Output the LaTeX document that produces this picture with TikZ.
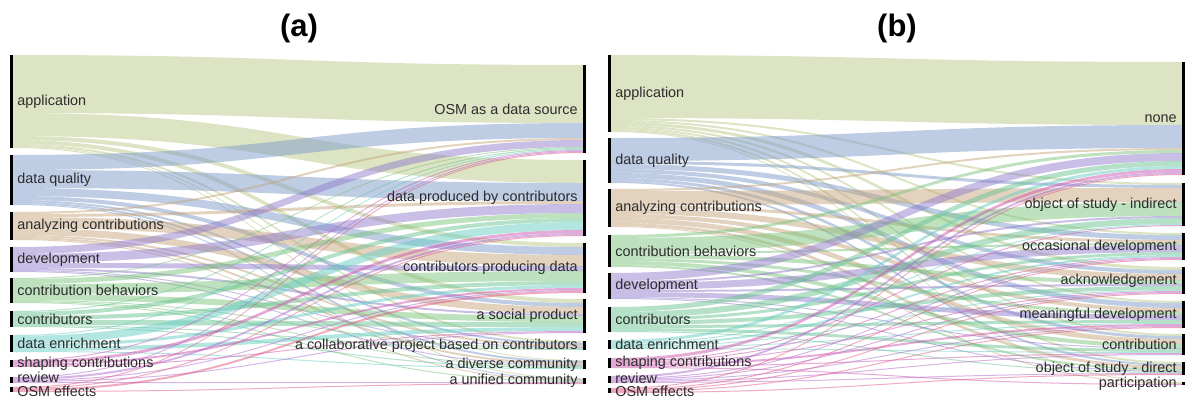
\documentclass[tikz,border=0pt]{standalone}
\usepackage{fontspec}
\setmainfont{Liberation Sans}
\usetikzlibrary{positioning}

% running top of the free slot on each bar
\newcommand{\setslot}[2]{\expandafter\xdef\csname slot#1\endcsname{#2}}
% one band from source #1 to target #2, #3 px wide
\newcommand{\flow}[3]{%
  \pgfmathsetmacro{\fya}{\csname slot#1\endcsname}%
  \pgfmathsetmacro{\fyc}{\csname slot#2\endcsname}%
  \pgfmathsetmacro{\fyb}{\fya+#3}%
  \pgfmathsetmacro{\fyd}{\fyc+#3}%
  \fill[band,c#1] (\flxl,\fya) .. controls (\flxm,\fya) and (\flxm,\fyc) .. (\flxr,\fyc)
    -- (\flxr,\fyd) .. controls (\flxm,\fyd) and (\flxm,\fyb) .. (\flxl,\fyb) -- cycle;
  \setslot{#1}{\fyb}\setslot{#2}{\fyd}}
\newcommand{\flows}[2]{\foreach \tgt/\wdt in {#2}{\flow{#1}{\tgt}{\wdt}}}

\tikzset{
  band/.style={opacity=0.5},
  bar/.style={shape=rectangle,fill=black,minimum width=3pt,inner sep=0pt},
  lbl/.style={inner sep=0pt,text=labelgrey,font=\fontsize{14.4}{16}\selectfont},
  ttl/.style={inner sep=0pt,font=\bfseries\fontsize{31}{34}\selectfont}
}

\begin{document}
\begin{tikzpicture}[x=1pt,y=-1pt]
    \definecolor{labelgrey}{RGB}{45,45,45}
    \definecolor{capp}{RGB}{185,201,135}
    \definecolor{cdq}{RGB}{125,153,201}
    \definecolor{cac}{RGB}{197,165,125}
    \definecolor{cdev}{RGB}{145,125,205}
    \definecolor{ccb}{RGB}{125,195,125}
    \definecolor{ccon}{RGB}{105,195,145}
    \definecolor{cde}{RGB}{105,205,195}
    \definecolor{csc}{RGB}{205,85,175}
    \definecolor{crev}{RGB}{175,105,205}
    \definecolor{cosm}{RGB}{225,85,125}
    \useasboundingbox (0,0) rectangle (1187,399);

    \node[ttl] (ta) at (299,28) {(a)};
    \node[ttl] (tb) at (897,28) {(b)};

    % panel (a)
    \def\flxl{13}\def\flxr{583}\def\flxm{298}
    \setslot{app}{55}\setslot{dq}{155}\setslot{ac}{212}\setslot{dev}{247}\setslot{cb}{278}
    \setslot{con}{311}\setslot{de}{335}\setslot{sc}{360}\setslot{rev}{377}\setslot{osm}{387}
    \setslot{src}{65}\setslot{dpc}{160}\setslot{cpd}{243}\setslot{soc}{299}
    \setslot{col}{341}\setslot{div}{360}\setslot{uni}{378}
    \flows{app}{src/58,dpc/23,cpd/4,soc/4,col/2,div/1,uni/1}
    \flows{dq}{src/15,dpc/18,cpd/8,soc/4,col/2,div/2,uni/1}
    \flows{ac}{src/2,dpc/3,cpd/11,soc/7,col/2,div/2,uni/1}
    \flows{dev}{src/7,dpc/9,cpd/5,soc/2,col/1,div/1}
    \flows{cb}{src/1,dpc/5,cpd/10,soc/6,col/1,div/1,uni/1}
    \flows{con}{src/1,dpc/4,cpd/4,soc/5,col/1,div/1}
    \flows{de}{src/1,dpc/8,cpd/3,soc/4,div/1}
    \flows{sc}{src/1,dpc/3,cpd/2,soc/1}
    \flows{rev}{src/1,dpc/2,cpd/1,soc/1,uni/1}
    \flows{osm}{src/1,dpc/1,cpd/2,uni/1}

    \node[bar,minimum height=93pt] (aApp) at (11.5,101.5) {};
    \node[bar,minimum height=50pt] (aDq)  at (11.5,180) {};
    \node[bar,minimum height=28pt] (aAc)  at (11.5,226) {};
    \node[bar,minimum height=25pt] (aDev) at (11.5,259.5) {};
    \node[bar,minimum height=25pt] (aCb)  at (11.5,290.5) {};
    \node[bar,minimum height=16pt] (aCon) at (11.5,319) {};
    \node[bar,minimum height=17pt] (aDe)  at (11.5,343.5) {};
    \node[bar,minimum height=7pt]  (aSc)  at (11.5,363.5) {};
    \node[bar,minimum height=6pt]  (aRev) at (11.5,380) {};
    \node[bar,minimum height=5pt]  (aOsm) at (11.5,389.5) {};
    \node[bar,minimum height=88pt] (aSrc) at (584.5,109) {};
    \node[bar,minimum height=76pt] (aDpc) at (584.5,198) {};
    \node[bar,minimum height=50pt] (aCpd) at (584.5,268) {};
    \node[bar,minimum height=34pt] (aSoc) at (584.5,316) {};
    \node[bar,minimum height=9pt]  (aCol) at (584.5,345.5) {};
    \node[bar,minimum height=9pt]  (aDiv) at (584.5,364.5) {};
    \node[bar,minimum height=6pt]  (aUni) at (584.5,381) {};

    \node[lbl,right=4pt of aApp] (laApp) {application};
    \node[lbl,right=4pt of aDq]  (laDq)  {data quality};
    \node[lbl,right=4pt of aAc]  (laAc)  {analyzing contributions};
    \node[lbl,right=4pt of aDev] (laDev) {development};
    \node[lbl,right=4pt of aCb]  (laCb)  {contribution behaviors};
    \node[lbl,right=4pt of aCon] (laCon) {contributors};
    \node[lbl,right=4pt of aDe]  (laDe)  {data enrichment};
    \node[lbl,right=4pt of aSc]  (laSc)  {shaping contributions};
    \node[lbl,right=4pt of aRev,yshift=2.5pt] (laRev) {review};
    \node[lbl,right=4pt of aOsm,yshift=-1.5pt] (laOsm) {OSM effects};
    \node[lbl,left=5pt of aSrc] (laSrc) {OSM as a data source};
    \node[lbl,left=5pt of aDpc] (laDpc) {data produced by contributors};
    \node[lbl,left=5pt of aCpd] (laCpd) {contributors producing data};
    \node[lbl,left=5pt of aSoc] (laSoc) {a social product};
    \node[lbl,left=5pt of aCol] (laCol) {a collaborative project based on contributors};
    \node[lbl,left=5pt of aDiv] (laDiv) {a diverse community};
    \node[lbl,left=5pt of aUni] (laUni) {a unified community};

    % panel (b)
    \def\flxl{611}\def\flxr{1182}\def\flxm{896.5}
    \setslot{app}{55}\setslot{dq}{138}\setslot{ac}{189}\setslot{cb}{235}\setslot{dev}{273}
    \setslot{con}{307}\setslot{de}{340}\setslot{sc}{358}\setslot{rev}{376}\setslot{osm}{388}
    \setslot{none}{62}\setslot{osi}{183}\setslot{occ}{233}\setslot{ack}{267}
    \setslot{mean}{301}\setslot{ctb}{334}\setslot{osd}{362}\setslot{part}{382}
    \flows{app}{none/63,osi/2,occ/2,ack/3,mean/2,ctb/2,osd/2,part/1}
    \flows{dq}{none/23,osi/3,occ/5,ack/4,mean/5,ctb/3,osd/2}
    \flows{ac}{none/2,osi/14,occ/3,ack/6,mean/4,ctb/5,osd/3,part/1}
    \flows{cb}{none/3,osi/14,occ/2,ack/4,mean/3,ctb/4,osd/2}
    \flows{dev}{none/8,osi/2,occ/7,ack/2,mean/5,ctb/1,osd/1}
    \flows{con}{none/5,osi/6,occ/3,ack/4,mean/3,ctb/3,osd/1}
    \flows{de}{none/3,osi/1,occ/2,ack/1,mean/1,ctb/1}
    \flows{sc}{none/3,osi/1,occ/1,ack/1,mean/2,ctb/1,part/1}
    \flows{rev}{none/2,occ/1,ack/1,mean/1,ctb/1,osd/1}
    \flows{osm}{none/1,occ/1,ack/1,mean/1,osd/1}

    \node[bar,minimum height=77pt] (bApp) at (609.5,93.5) {};
    \node[bar,minimum height=45pt] (bDq)  at (609.5,160.5) {};
    \node[bar,minimum height=38pt] (bAc)  at (609.5,208) {};
    \node[bar,minimum height=32pt] (bCb)  at (609.5,251) {};
    \node[bar,minimum height=26pt] (bDev) at (609.5,286) {};
    \node[bar,minimum height=25pt] (bCon) at (609.5,319.5) {};
    \node[bar,minimum height=9pt]  (bDe)  at (609.5,344.5) {};
    \node[bar,minimum height=10pt] (bSc)  at (609.5,363) {};
    \node[bar,minimum height=7pt]  (bRev) at (609.5,379.5) {};
    \node[bar,minimum height=5pt]  (bOsm) at (609.5,390.5) {};
    \node[bar,minimum height=113pt] (bNone) at (1183.5,118.5) {};
    \node[bar,minimum height=43pt] (bOsi)  at (1183.5,204.5) {};
    \node[bar,minimum height=27pt] (bOcc)  at (1183.5,246.5) {};
    \node[bar,minimum height=27pt] (bAck)  at (1183.5,280.5) {};
    \node[bar,minimum height=27pt] (bMean) at (1183.5,314.5) {};
    \node[bar,minimum height=21pt] (bCtb)  at (1183.5,344.5) {};
    \node[bar,minimum height=13pt] (bOsd)  at (1183.5,368.5) {};
    \node[bar,minimum height=3pt]  (bPart) at (1183.5,383.5) {};

    \node[lbl,right=4pt of bApp] (lbApp) {application};
    \node[lbl,right=4pt of bDq]  (lbDq)  {data quality};
    \node[lbl,right=4pt of bAc]  (lbAc)  {analyzing contributions};
    \node[lbl,right=4pt of bCb]  (lbCb)  {contribution behaviors};
    \node[lbl,right=4pt of bDev] (lbDev) {development};
    \node[lbl,right=4pt of bCon] (lbCon) {contributors};
    \node[lbl,right=4pt of bDe]  (lbDe)  {data enrichment};
    \node[lbl,right=4pt of bSc]  (lbSc)  {shaping contributions};
    \node[lbl,right=4pt of bRev,yshift=1.5pt] (lbRev) {review};
    \node[lbl,right=4pt of bOsm,yshift=-1pt] (lbOsm) {OSM effects};
    \node[lbl,left=5pt of bNone] (lbNone) {none};
    \node[lbl,left=5pt of bOsi]  (lbOsi)  {object of study - indirect};
    \node[lbl,left=5pt of bOcc]  (lbOcc)  {occasional development};
    \node[lbl,left=5pt of bAck]  (lbAck)  {acknowledgement};
    \node[lbl,left=5pt of bMean] (lbMean) {meaningful development};
    \node[lbl,left=5pt of bCtb]  (lbCtb)  {contribution};
    \node[lbl,left=5pt of bOsd]  (lbOsd)  {object of study - direct};
    \node[lbl,left=5pt of bPart] (lbPart) {participation};
\end{tikzpicture}
\end{document}
